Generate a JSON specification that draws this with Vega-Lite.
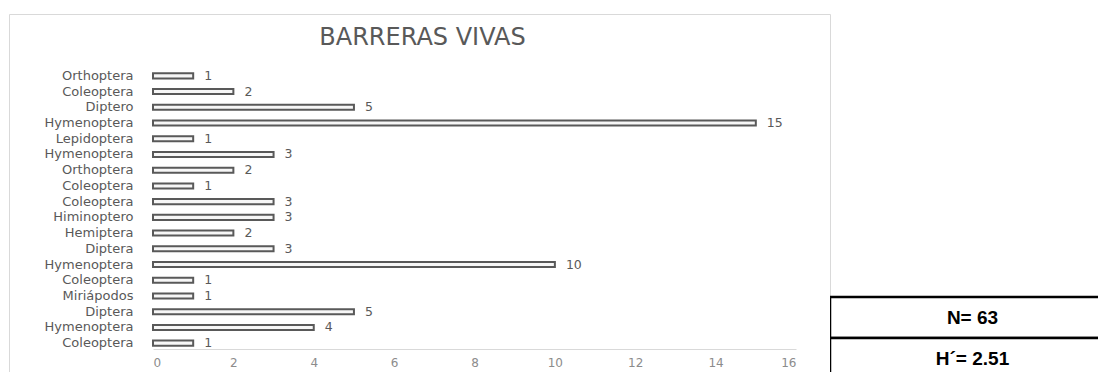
{
  "$schema": "https://vega.github.io/schema/vega-lite/v6.json",
  "padding": {"left": 8, "top": 13, "right": 0, "bottom": 0},
  "spacing": 0,
  "bounds": "flush",
  "config": {"view": {"stroke": "#d9d9d9", "strokeWidth": 1}, "font": "DejaVu Sans"},
  "datasets": {
    "insects": [
      {"key": "01 Orthoptera", "taxon": "Orthoptera", "count": 1},
      {"key": "02 Coleoptera", "taxon": "Coleoptera", "count": 2},
      {"key": "03 Diptero", "taxon": "Diptero", "count": 5},
      {"key": "04 Hymenoptera", "taxon": "Hymenoptera", "count": 15},
      {"key": "05 Lepidoptera", "taxon": "Lepidoptera", "count": 1},
      {"key": "06 Hymenoptera", "taxon": "Hymenoptera", "count": 3},
      {"key": "07 Orthoptera", "taxon": "Orthoptera", "count": 2},
      {"key": "08 Coleoptera", "taxon": "Coleoptera", "count": 1},
      {"key": "09 Coleoptera", "taxon": "Coleoptera", "count": 3},
      {"key": "10 Himinoptero", "taxon": "Himinoptero", "count": 3},
      {"key": "11 Hemiptera", "taxon": "Hemiptera", "count": 2},
      {"key": "12 Diptera", "taxon": "Diptera", "count": 3},
      {"key": "13 Hymenoptera", "taxon": "Hymenoptera", "count": 10},
      {"key": "14 Coleoptera", "taxon": "Coleoptera", "count": 1},
      {"key": "15 Miriápodos", "taxon": "Miriápodos", "count": 1},
      {"key": "16 Diptera", "taxon": "Diptera", "count": 5},
      {"key": "17 Hymenoptera", "taxon": "Hymenoptera", "count": 4},
      {"key": "18 Coleoptera", "taxon": "Coleoptera", "count": 1}
    ],
    "summary": [
      {"row": "1", "label": "N= 63"},
      {"row": "2", "label": "H´= 2.51"}
    ]
  },
  "hconcat": [
    {
      "width": 821,
      "height": 358,
      "data": {"name": "insects"},
      "title": {
        "text": "BARRERAS VIVAS",
        "anchor": "middle",
        "frame": "group",
        "offset": -55,
        "dx": 3,
        "baseline": "alphabetic",
        "fontSize": 24,
        "fontWeight": "normal",
        "font": "DejaVu Sans",
        "color": "#595959"
      },
      "encoding": {
        "y": {
          "field": "key",
          "type": "nominal",
          "sort": "ascending",
          "scale": {"range": [54, 337], "paddingInner": 0.68, "paddingOuter": 0.34},
          "axis": {
            "title": null,
            "offset": -144,
            "domain": false,
            "ticks": false,
            "labelPadding": 20,
            "labelExpr": "substring(datum.value, 3)",
            "labelColor": "#595959",
            "labelFontSize": 13,
            "labelFont": "DejaVu Sans",
            "labelLimit": 0
          }
        }
      },
      "layer": [
        {
          "mark": {"type": "bar", "fill": "#f7f7f7", "stroke": "#595959", "strokeWidth": 2},
          "encoding": {
            "x": {
              "field": "count",
              "type": "quantitative",
              "scale": {"domain": [0, 16], "range": [144, 787]},
              "axis": {
                "title": null,
                "offset": -23,
                "values": [0, 2, 4, 6, 8, 10, 12, 14, 16],
                "grid": false,
                "ticks": false,
                "domainColor": "#d9d9d9",
                "labelColor": "#8c8c8c",
                "labelFontSize": 12,
                "labelFont": "DejaVu Sans",
                "labelPadding": 8
              }
            }
          }
        },
        {
          "mark": {"type": "text", "align": "left", "baseline": "middle", "dx": 11, "fontSize": 12.5, "color": "#595959", "font": "DejaVu Sans"},
          "encoding": {
            "x": {"field": "count", "type": "quantitative"},
            "text": {"field": "count", "type": "quantitative"}
          }
        }
      ]
    },
    {
      "width": 269,
      "height": 358,
      "view": {"stroke": null},
      "data": {"name": "summary"},
      "encoding": {
        "y": {"field": "row", "type": "nominal", "scale": {"range": [283, 365], "paddingInner": 0, "paddingOuter": 0}, "axis": null}
      },
      "layer": [
        {
          "mark": {"type": "rect", "fill": "white", "stroke": "black", "strokeWidth": 2.5, "clip": true, "x2Offset": 40},
          "encoding": {
            "x": {"datum": 0, "type": "quantitative", "scale": {"domain": [0, 1], "range": [0, 269]}, "axis": null},
            "x2": {"datum": 1}
          }
        },
        {
          "mark": {"type": "text", "font": "Liberation Sans", "fontWeight": "bold", "fontSize": 19, "color": "black", "baseline": "middle", "dx": 8},
          "encoding": {
            "x": {"datum": 0.5, "type": "quantitative"},
            "text": {"field": "label", "type": "nominal"}
          }
        }
      ]
    }
  ]
}
